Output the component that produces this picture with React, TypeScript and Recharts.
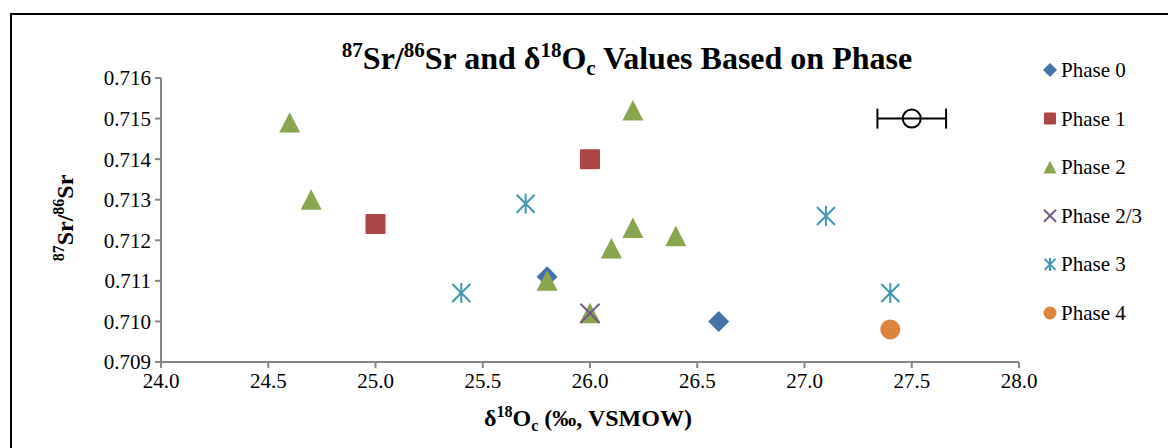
import React from 'react';
import { ScatterChart, Scatter, XAxis, YAxis, ErrorBar } from 'recharts';

const phase0 = [
  { x: 25.8, y: 0.7111 },
  { x: 26.6, y: 0.71 },
];
const phase1 = [
  { x: 25.0, y: 0.7124 },
  { x: 26.0, y: 0.714 },
];
const phase2 = [
  { x: 24.6, y: 0.7149 },
  { x: 24.7, y: 0.713 },
  { x: 26.2, y: 0.7152 },
  { x: 26.2, y: 0.7123 },
  { x: 26.1, y: 0.7118 },
  { x: 26.4, y: 0.7121 },
  { x: 25.8, y: 0.711 },
  { x: 26.0, y: 0.7102 },
];
const phase23 = [{ x: 26.0, y: 0.7102 }];
const phase3 = [
  { x: 25.7, y: 0.7129 },
  { x: 25.4, y: 0.7107 },
  { x: 27.1, y: 0.7126 },
  { x: 27.4, y: 0.7107 },
];
const phase4 = [{ x: 27.4, y: 0.7098 }];
const errorPoint = [{ x: 27.5, y: 0.715, err: 0.16 }];

const xTicks = [24.0, 24.5, 25.0, 25.5, 26.0, 26.5, 27.0, 27.5, 28.0];
const yTicks = [0.709, 0.71, 0.711, 0.712, 0.713, 0.714, 0.715, 0.716];
const legendLabels = ['Phase 0', 'Phase 1', 'Phase 2', 'Phase 2/3', 'Phase 3', 'Phase 4'];

const C0 = '#4572A7';
const C1 = '#AA4643';
const C2 = '#89A54E';
const C23 = '#71588F';
const C3 = '#4198AF';
const C4 = '#DB843D';

const FONT = '"Liberation Serif", "Times New Roman", serif';

const Diamond = ({ cx, cy, s = 10.5, fill = C0 }: any) => (
  <polygon points={`${cx},${cy - s} ${cx + s},${cy} ${cx},${cy + s} ${cx - s},${cy}`} fill={fill} />
);
const Square = ({ cx, cy, s = 10, fill = C1 }: any) => (
  <rect x={cx - s} y={cy - s} width={2 * s} height={2 * s} rx={1} fill={fill} />
);
const Triangle = ({ cx, cy, s = 10.5, fill = C2 }: any) => (
  <polygon points={`${cx},${cy - s} ${cx + s},${cy + s * 0.95} ${cx - s},${cy + s * 0.95}`} fill={fill} />
);
const XMark = ({ cx, cy, s = 9.5, stroke = C23, sw = 2 }: any) => (
  <g stroke={stroke} strokeWidth={sw}>
    <line x1={cx - s} y1={cy - s} x2={cx + s} y2={cy + s} />
    <line x1={cx - s} y1={cy + s} x2={cx + s} y2={cy - s} />
  </g>
);
const Asterisk = ({ cx, cy, s = 9, stroke = C3, sw = 2 }: any) => (
  <g stroke={stroke} strokeWidth={sw}>
    <line x1={cx - s} y1={cy - s} x2={cx + s} y2={cy + s} />
    <line x1={cx - s} y1={cy + s} x2={cx + s} y2={cy - s} />
    <line x1={cx} y1={cy - s - 1} x2={cx} y2={cy + s + 1} />
  </g>
);
const Dot = ({ cx, cy, r = 10, fill = C4 }: any) => <circle cx={cx} cy={cy} r={r} fill={fill} />;
const OpenCircle = ({ cx, cy }: any) => (
  <circle cx={cx} cy={cy} r={9} fill="none" stroke="#000" strokeWidth={2} />
);

const legendIcons = [
  (cx: number, cy: number) => <Diamond cx={cx} cy={cy} s={7} />,
  (cx: number, cy: number) => <Square cx={cx} cy={cy} s={6} />,
  (cx: number, cy: number) => <Triangle cx={cx} cy={cy} s={6.5} />,
  (cx: number, cy: number) => <XMark cx={cx} cy={cy} s={6} />,
  (cx: number, cy: number) => <Asterisk cx={cx} cy={cy} s={5.5} />,
  (cx: number, cy: number) => <Dot cx={cx} cy={cy} r={6.5} />,
];

export default function App() {
  return (
    <div
      style={{
        position: 'absolute',
        left: 0,
        top: 0,
        width: 1168,
        height: 448,
        overflow: 'hidden',
        background: '#fff',
      }}
    >
      <div
        style={{
          position: 'absolute',
          left: 10,
          top: 13,
          width: 1200,
          height: 500,
          border: '2px solid #000',
        }}
      />
      <ScatterChart
        width={1168}
        height={448}
        margin={{ top: 78, right: 149, bottom: 0, left: 0 }}
        style={{ position: 'absolute', left: 0, top: 0 }}
      >
        <XAxis
          type="number"
          dataKey="x"
          domain={[24, 28]}
          ticks={xTicks}
          tickFormatter={(v: number) => v.toFixed(1)}
          height={86}
          stroke="#868686"
          strokeWidth={2}
          tickSize={6}
          tickMargin={5}
          tick={{ fill: '#000', fontSize: 21, fontFamily: FONT }}
          allowDataOverflow
        />
        <YAxis
          type="number"
          dataKey="y"
          domain={[0.709, 0.716]}
          ticks={yTicks}
          tickFormatter={(v: number) => v.toFixed(3)}
          width={161}
          stroke="#868686"
          strokeWidth={2}
          tickSize={6}
          tickMargin={4}
          tick={{ fill: '#000', fontSize: 21, fontFamily: FONT }}
          allowDataOverflow
        />
        <Scatter data={phase0} isAnimationActive={false} shape={(p: any) => <Diamond cx={p.cx} cy={p.cy} />} />
        <Scatter data={phase1} isAnimationActive={false} shape={(p: any) => <Square cx={p.cx} cy={p.cy} />} />
        <Scatter data={phase2} isAnimationActive={false} shape={(p: any) => <Triangle cx={p.cx} cy={p.cy} />} />
        <Scatter data={phase23} isAnimationActive={false} shape={(p: any) => <XMark cx={p.cx} cy={p.cy} />} />
        <Scatter data={phase3} isAnimationActive={false} shape={(p: any) => <Asterisk cx={p.cx} cy={p.cy} />} />
        <Scatter data={phase4} isAnimationActive={false} shape={(p: any) => <Dot cx={p.cx} cy={p.cy} />} />
        <Scatter data={errorPoint} isAnimationActive={false} shape={(p: any) => <OpenCircle cx={p.cx} cy={p.cy} />}>
          <ErrorBar dataKey="err" direction="x" width={10} stroke="#000" strokeWidth={2} />
        </Scatter>
      </ScatterChart>
      <svg
        width={1168}
        height={448}
        style={{ position: 'absolute', left: 0, top: 0, pointerEvents: 'none' }}
        fontFamily={FONT}
      >
        <text x={627} y={69} textAnchor="middle" fontSize={32} fontWeight="bold" fill="#000">
          <tspan fontSize={21} dy={-12}>87</tspan>
          <tspan dy={12}>Sr/</tspan>
          <tspan fontSize={21} dy={-12}>86</tspan>
          <tspan dy={12}>Sr and δ</tspan>
          <tspan fontSize={21} dy={-12}>18</tspan>
          <tspan dy={12}>O</tspan>
          <tspan fontSize={21} dy={6}>c</tspan>
          <tspan dy={-6}> Values Based on Phase</tspan>
        </text>
        <text x={588} y={426} textAnchor="middle" fontSize={24} fontWeight="bold" fill="#000">
          <tspan>δ</tspan>
          <tspan fontSize={16} dy={-9}>18</tspan>
          <tspan dy={9}>O</tspan>
          <tspan fontSize={16} dy={5}>c</tspan>
          <tspan dy={-5}> (‰, VSMOW)</tspan>
        </text>
        <text
          transform="translate(73,218) rotate(-90)"
          textAnchor="middle"
          fontSize={24}
          fontWeight="bold"
          fill="#000"
        >
          <tspan fontSize={16} dy={-9}>87</tspan>
          <tspan dy={9}>Sr/</tspan>
          <tspan fontSize={16} dy={-9}>86</tspan>
          <tspan dy={9}>Sr</tspan>
        </text>
        {legendLabels.map((label, i) => {
          const cy = 70 + i * 48.6;
          return (
            <g key={label}>
              {legendIcons[i](1050, cy)}
              <text x={1061} y={cy + 7} fontSize={21} fill="#000">
                {label}
              </text>
            </g>
          );
        })}
      </svg>
    </div>
  );
}
